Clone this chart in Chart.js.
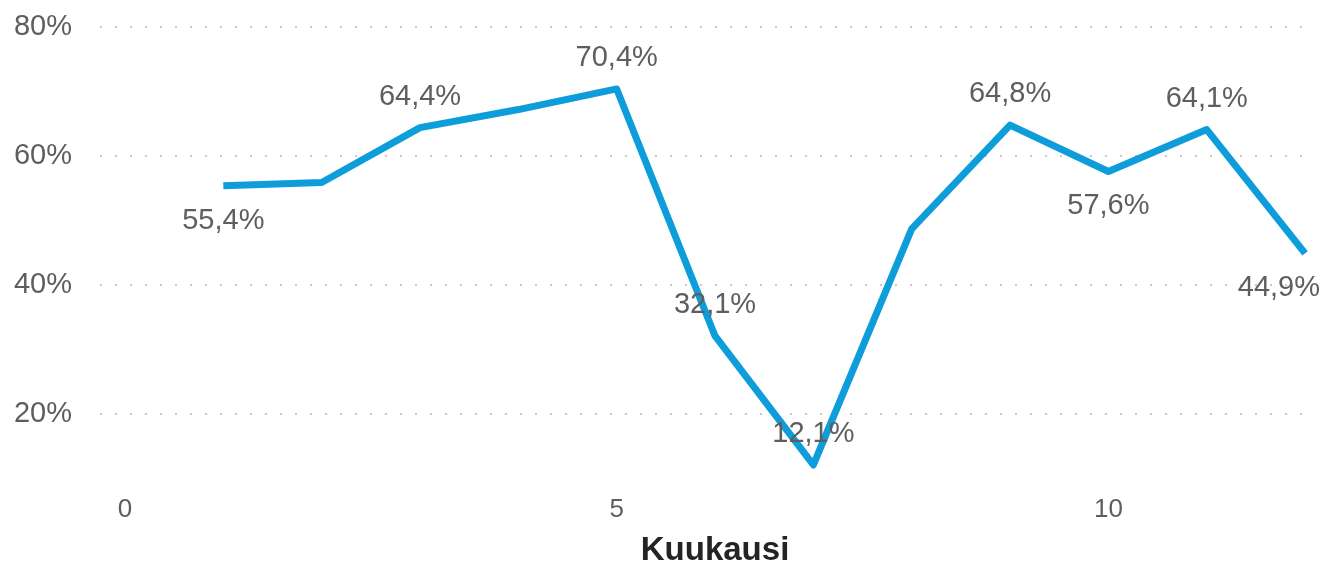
<!DOCTYPE html>
<html>
<head>
<meta charset="utf-8">
<script src="https://cdn.jsdelivr.net/npm/chart.js@4"></script>
<style>
  html, body { margin: 0; padding: 0; background: #fff; }
  #wrap { width: 1329px; height: 564px; }
</style>
</head>
<body>
<div id="wrap"><canvas id="chart" width="1329" height="564"></canvas></div>
<script>
// Data
const MONTHS = [1, 2, 3, 4, 5, 6, 7, 8, 9, 10, 11, 12];
const SHARE = [55.4, 55.9, 64.4, 67.2, 70.4, 32.1, 12.1, 48.7, 64.8, 57.6, 64.1, 44.9];
const X_TICKS = [0, 5, 10];
const Y_TICKS = [20, 40, 60, 80];
const X_TITLE = 'Kuukausi';
// where each data label sits (null = no label)
const LABEL_POS = ['below', null, 'above', null, 'above', 'above', 'above', null, 'above', 'below', 'above', 'below'];

const LINE_COLOR = '#0D9DDB';
const TEXT_COLOR = '#605E5C';
const FONT = "'Liberation Sans', Arial, sans-serif";

const fmt = (v) => v.toFixed(1).replace('.', ',') + '%';

// Data labels next to the points
const pointLabels = {
  id: 'pointLabels',
  afterDatasetsDraw(chart) {
    const { ctx } = chart;
    const meta = chart.getDatasetMeta(0);
    ctx.save();
    ctx.font = '29px ' + FONT;
    ctx.fillStyle = TEXT_COLOR;
    ctx.textAlign = 'center';
    ctx.textBaseline = 'middle';
    meta.data.forEach((pt, i) => {
      const pos = LABEL_POS[i];
      if (!pos) return;
      const text = fmt(SHARE[i]);
      const w = ctx.measureText(text).width;
      let x = pt.x;
      const y = pos === 'above' ? pt.y - 31 : pt.y + 35;
      if (x + w / 2 > chart.width - 9) x = chart.width - 9 - w / 2;
      ctx.fillText(text, x, y);
    });
    ctx.restore();
  }
};

// Axis title, centred on the 0..12 data range
const axisTitle = {
  id: 'axisTitle',
  afterDraw(chart) {
    const { ctx } = chart;
    const xs = chart.scales.x;
    const cx = (xs.getPixelForValue(0) + xs.getPixelForValue(12)) / 2;
    ctx.save();
    ctx.font = 'bold 33px ' + FONT;
    ctx.fillStyle = '#252423';
    ctx.textAlign = 'center';
    ctx.textBaseline = 'middle';
    ctx.fillText(X_TITLE, cx, 551);
    ctx.restore();
  }
};

const ctx = document.getElementById('chart');
new Chart(ctx, {
  type: 'line',
  data: {
    datasets: [{
      data: MONTHS.map((m, i) => ({ x: m, y: SHARE[i] })),
      borderColor: LINE_COLOR,
      borderWidth: 7,
      borderJoinStyle: 'round',
      borderCapStyle: 'butt',
      pointRadius: 0,
      tension: 0,
      fill: false
    }]
  },
  options: {
    responsive: false,
    animation: false,
    layout: { padding: { top: 27, right: 19, left: 0, bottom: 0 } },
    plugins: {
      legend: { display: false },
      tooltip: { enabled: false }
    },
    scales: {
      x: {
        type: 'linear',
        min: -0.254,
        max: 12.05,
        afterBuildTicks: (axis) => { axis.ticks = X_TICKS.map(v => ({ value: v })); },
        afterFit: (axis) => { axis.height = 85.5; },
        grid: { display: false, drawTicks: false },
        border: { display: false },
        ticks: {
          padding: 16,
          color: TEXT_COLOR,
          font: { family: FONT, size: 26 }
        }
      },
      y: {
        min: 10,
        max: 80,
        afterBuildTicks: (axis) => { axis.ticks = Y_TICKS.map(v => ({ value: v })); },
        afterFit: (axis) => { axis.width = 100; },
        grid: { color: '#C8C8C8', lineWidth: 2, drawTicks: true, tickLength: 28, tickColor: 'rgba(0,0,0,0)' },
        border: { display: false, dash: [2, 13] },
        ticks: {
          padding: 0,
          color: TEXT_COLOR,
          font: { family: FONT, size: 29 },
          callback: (v) => v + '%'
        }
      }
    }
  },
  plugins: [pointLabels, axisTitle]
});
</script>
</body>
</html>
